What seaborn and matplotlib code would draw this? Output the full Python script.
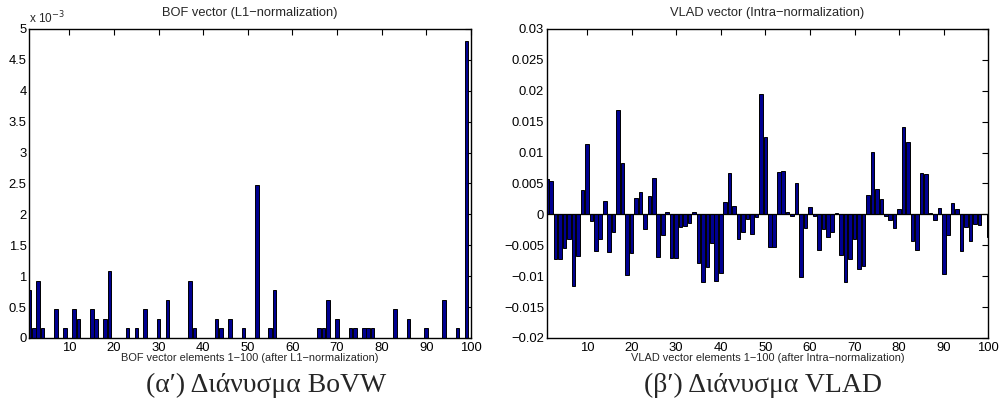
import numpy as np
import pandas as pd
import matplotlib
matplotlib.use("Agg")
import matplotlib.pyplot as plt
import seaborn as sns

# ---------------- data ----------------
elements = list(range(1, 101))

# BOF vector (L1-normalization), values in absolute units
bof_values = [v * 1e-3 for v in [
    0.775, 0.155, 0.93, 0.155, 0, 0, 0.465, 0, 0.155, 0,
    0.465, 0.31, 0, 0, 0.465, 0.31, 0, 0.31, 1.085, 0,
    0, 0, 0.155, 0, 0.155, 0, 0.465, 0, 0, 0.31,
    0, 0.62, 0, 0, 0, 0, 0.93, 0.155, 0, 0,
    0, 0, 0.31, 0.155, 0, 0.31, 0, 0, 0.155, 0,
    0, 2.48, 0, 0, 0.155, 0.775, 0, 0, 0, 0,
    0, 0, 0, 0, 0, 0.155, 0.155, 0.62, 0, 0.31,
    0, 0, 0.155, 0.155, 0, 0.155, 0.155, 0.155, 0, 0,
    0, 0, 0.465, 0, 0, 0.31, 0, 0, 0, 0.155,
    0, 0, 0, 0.62, 0, 0, 0.155, 0, 4.81, 0,
]]

# VLAD vector (Intra-normalization)
vlad_values = [v * 1e-3 for v in [
    5.7, 5.4, -7.2, -7.2, -5.45, -3.95, -11.65, -6.75, 3.95, 11.45,
    -1.0, -5.9, -4.0, 2.2, -6.1, -2.8, 16.95, 8.3, -9.8, -6.2,
    2.65, 3.6, -2.3, 2.9, 5.9, -6.9, -3.4, 0.4, -7.0, -7.0,
    -2.1, -1.8, -1.35, 0.45, -7.85, -11.0, -8.5, -4.65, -10.85, -9.55,
    2.0, 6.7, 1.35, -3.95, -2.9, -0.8, -3.2, -0.5, 19.45, 12.6,
    -5.2, -5.3, 6.8, 7.0, 0.4, -0.3, 5.1, -10.2, -2.2, 1.2,
    -0.3, -5.7, -2.4, -3.6, -2.8, 0.2, -6.6, -10.9, -7.2, -4.0,
    -8.9, -8.4, 3.2, 10.05, 4.1, 2.45, -0.25, -0.95, -2.25, 0.9,
    14.2, 11.75, -4.3, -5.75, 6.65, 6.5, 0.2, -0.95, 1.1, -9.6,
    -3.3, 1.8, 0.9, -5.95, -2.1, -4.35, -1.6, -1.7, 0.0, -3.6,
]]

x_ticks = [10, 20, 30, 40, 50, 60, 70, 80, 90, 100]
bof_yticks = [0, 0.5e-3, 1e-3, 1.5e-3, 2e-3, 2.5e-3, 3e-3, 3.5e-3, 4e-3, 4.5e-3, 5e-3]
bof_ytick_labels = ["0", "0.5", "1", "1.5", "2", "2.5", "3", "3.5", "4", "4.5", "5"]
vlad_yticks = [-0.02, -0.015, -0.01, -0.005, 0, 0.005, 0.01, 0.015, 0.02, 0.025, 0.03]
vlad_ytick_labels = ["\u22120.02", "\u22120.015", "\u22120.01", "\u22120.005", "0",
                     "0.005", "0.01", "0.015", "0.02", "0.025", "0.03"]

titles = ["BOF vector (L1\u2212normalization)", "VLAD vector (Intra\u2212normalization)"]
xlabels = ["BOF vector elements 1\u2212100 (after L1\u2212normalization)",
           "VLAD vector elements 1\u2212100 (after Intra\u2212normalization)"]
captions = ["(\u03b1\u2032) \u0394\u03b9\u03ac\u03bd\u03c5\u03c3\u03bc\u03b1 BoVW",
            "(\u03b2\u2032) \u0394\u03b9\u03ac\u03bd\u03c5\u03c3\u03bc\u03b1 VLAD"]

# ---------------- style ----------------
sns.set_style("white")
plt.rcParams["font.family"] = ["Liberation Sans", "DejaVu Sans"]
plt.rcParams["axes.unicode_minus"] = True

BAR_COLOR = "#000090"

fig = plt.figure(figsize=(10.01, 4.13), dpi=100)
ax1 = fig.add_axes([0.0293, 0.1816, 0.4410, 0.7482])
ax2 = fig.add_axes([0.5462, 0.1816, 0.4412, 0.7482])

df_bof = pd.DataFrame({"element": elements, "value": bof_values})
df_vlad = pd.DataFrame({"element": elements, "value": vlad_values})

for ax, df in ((ax1, df_bof), (ax2, df_vlad)):
    sns.barplot(data=df, x="element", y="value", native_scale=True, width=0.8,
                color=BAR_COLOR, saturation=1, edgecolor="black", linewidth=0.7,
                ax=ax)

ax2.axhline(0, color="black", linewidth=0.9, zorder=5)

for ax, yt, ytl, title, xl in ((ax1, bof_yticks, bof_ytick_labels, titles[0], xlabels[0]),
                                (ax2, vlad_yticks, vlad_ytick_labels, titles[1], xlabels[1])):
    ax.set_xlim(1, 100)
    ax.set_ylim(yt[0], yt[-1])
    ax.set_xticks(x_ticks)
    ax.set_xticklabels([str(t) for t in x_ticks])
    ax.set_yticks(yt)
    ax.set_yticklabels(ytl)
    ax.tick_params(direction="in", length=4, width=0.8, top=True, right=True,
                   labelsize=9.4, colors="black", pad=2)
    ax.tick_params(axis="x", pad=3)
    for s in ax.spines.values():
        s.set_visible(True)
        s.set_color("black")
        s.set_linewidth(1.0)
    ax.set_title(title, fontsize=9.3, pad=9)
    ax.set_xlabel(xl, fontsize=7.9, labelpad=-1)
    ax.set_ylabel("")
    ax.grid(False)

ax1.text(0.0, 1.008, "x 10$^{-3}$", transform=ax1.transAxes, fontsize=8.5,
         ha="left", va="bottom")

fig.text(0.266, 0.066, captions[0], fontsize=20, ha="center", va="center",
         family=["Liberation Serif", "DejaVu Serif"])
fig.text(0.762, 0.066, captions[1], fontsize=20, ha="center", va="center",
         family=["Liberation Serif", "DejaVu Serif"])

fig.savefig("out.png", dpi=100)
